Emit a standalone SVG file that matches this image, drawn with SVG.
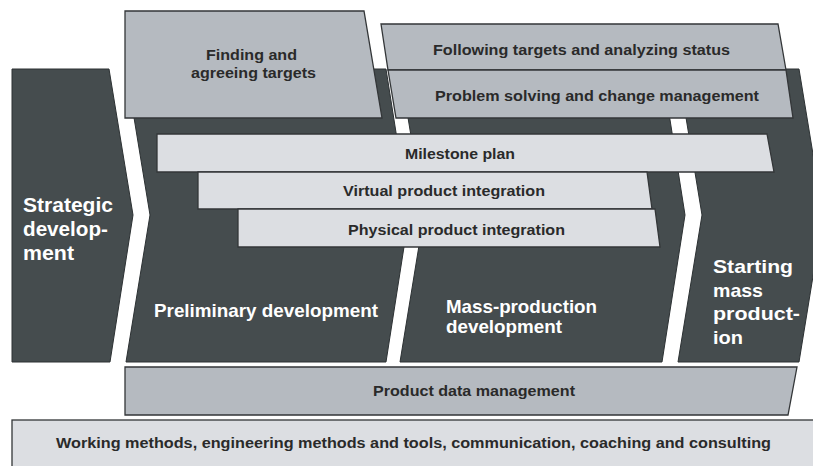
<svg xmlns="http://www.w3.org/2000/svg" width="813" height="466" viewBox="0 0 813 466">
<style>
.dark{fill:#454c4e;stroke:#2c3133;stroke-width:1}
.mid{fill:#b5bac0;stroke:#333638;stroke-width:1.3}
.light{fill:#dcdee2;stroke:#333638;stroke-width:1.3}
text{font-family:"Liberation Sans",Arial,sans-serif;font-weight:bold}
.t{fill:#2a2a2a;font-size:14.5px}
.w{fill:#ffffff;font-size:19.5px}
.w2{fill:#ffffff;font-size:18.5px}
</style>
<rect width="813" height="466" fill="#ffffff"/>
<g id="strategic">
<polygon class="dark" points="12,69 109,69 133,215 110,362 12,362"/>
<text class="w" x="23" y="212" textLength="90" lengthAdjust="spacingAndGlyphs">Strategic</text>
<text class="w" x="23" y="236" textLength="85" lengthAdjust="spacingAndGlyphs">develop-</text>
<text class="w" x="23" y="260" textLength="51" lengthAdjust="spacingAndGlyphs">ment</text>
</g>
<g id="preliminary">
<polygon class="dark" points="126,69 386,69 409,215 386,362 126,362 150,215"/>
<text class="w2" x="154" y="317" textLength="224" lengthAdjust="spacingAndGlyphs">Preliminary development</text>
</g>
<g id="massproduction">
<polygon class="dark" points="400,69 662,69 685,215 662,362 400,362 424,215"/>
<text class="w2" x="446" y="313" textLength="151" lengthAdjust="spacingAndGlyphs">Mass-production</text>
<text class="w2" x="446" y="333" textLength="116" lengthAdjust="spacingAndGlyphs">development</text>
</g>
<g id="starting">
<polygon class="dark" points="678,69 799,69 823,215 799,362 678,362 702,215"/>
<text class="w2" x="713" y="273" textLength="80" lengthAdjust="spacingAndGlyphs">Starting</text>
<text class="w2" x="713" y="297" textLength="50" lengthAdjust="spacingAndGlyphs">mass</text>
<text class="w2" x="713" y="320" textLength="87" lengthAdjust="spacingAndGlyphs">product-</text>
<text class="w2" x="713" y="344" textLength="30" lengthAdjust="spacingAndGlyphs">ion</text>
</g>
<g id="finding">
<polygon class="mid" points="125,11 364,11 382,118 125,118"/>
<text class="t" x="206" y="60" textLength="91" lengthAdjust="spacingAndGlyphs">Finding and</text>
<text class="t" x="191" y="77.5" textLength="125" lengthAdjust="spacingAndGlyphs">agreeing targets</text>
</g>
<g id="following">
<polygon class="mid" points="381,24 778,24 786,70 388,70"/>
<text class="t" x="433" y="55" textLength="297" lengthAdjust="spacingAndGlyphs">Following targets and analyzing status</text>
</g>
<g id="problem">
<polygon class="mid" points="388,70 786,70 793,118 396,118"/>
<text class="t" x="435" y="101" textLength="324" lengthAdjust="spacingAndGlyphs">Problem solving and change management</text>
</g>
<g id="milestone">
<polygon class="light" points="157,134 767,134 774,172 157,172"/>
<text class="t" x="405" y="159" textLength="110" lengthAdjust="spacingAndGlyphs">Milestone plan</text>
</g>
<g id="virtual">
<polygon class="light" points="198,172 647,172 652,209 198,209"/>
<text class="t" x="343" y="196" textLength="202" lengthAdjust="spacingAndGlyphs">Virtual product integration</text>
</g>
<g id="physical">
<polygon class="light" points="238,209 655,209 660,247 238,247"/>
<text class="t" x="348" y="235" textLength="217" lengthAdjust="spacingAndGlyphs">Physical product integration</text>
</g>
<g id="pdm">
<polygon class="mid" points="125,367 797,367 788,415 125,415"/>
<text class="t" x="373" y="396" textLength="202" lengthAdjust="spacingAndGlyphs">Product data management</text>
</g>
<g id="working">
<rect class="light" x="12" y="420" width="830" height="60"/>
<text class="t" x="56" y="448" textLength="715" lengthAdjust="spacingAndGlyphs">Working methods, engineering methods and tools, communication, coaching and consulting</text>
</g>
<g id="connectors"></g>
</svg>
